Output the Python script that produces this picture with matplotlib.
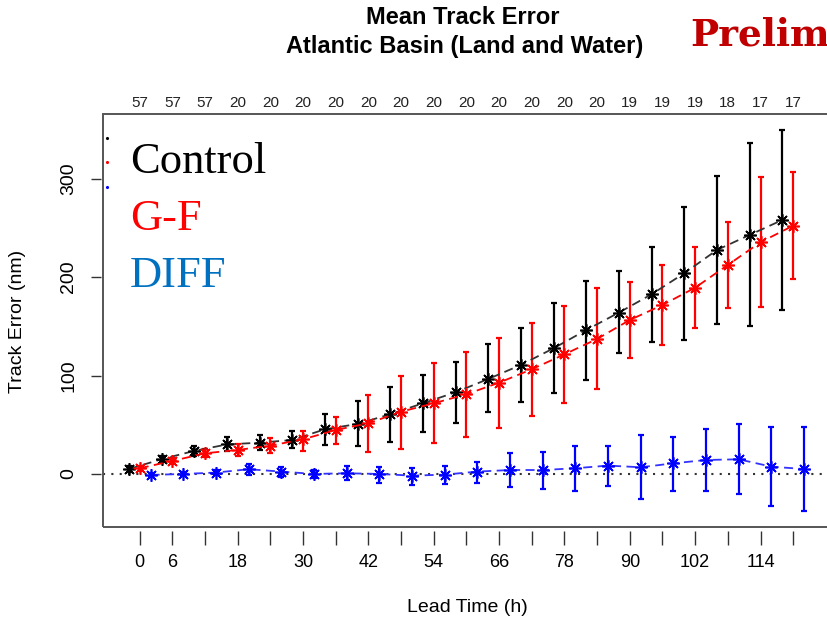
import matplotlib
matplotlib.use('Agg')
import matplotlib.pyplot as plt

# lead times (h) and sample size per lead time
lead = [0, 6, 12, 18, 24, 30, 36, 42, 48, 54, 60, 66, 72, 78, 84, 90, 96, 102, 108, 114, 120]
counts = [57, 57, 57, 20, 20, 20, 20, 20, 20, 20, 20, 20, 20, 20, 20, 19, 19, 19, 18, 17, 17]
xlabels_shown = [0, 6, 18, 30, 42, 54, 66, 78, 90, 102, 114]

# Control
ctrl_mean = [5, 15, 23.4, 30, 31.8, 34.5, 45.4, 50.8, 60.7, 71.8, 83, 96.5, 110.8, 127.7, 146.3, 164, 182.6, 204, 227.6, 242.9, 258.1]
ctrl_hi = [8, 18, 28, 37.3, 39.6, 44, 61, 73.9, 88.7, 100.3, 113.8, 131.8, 148, 173.5, 196, 206.3, 230.4, 271.6, 303, 336, 349.6]
ctrl_lo = [2, 12, 18.3, 23.7, 24.4, 26, 29.5, 28.8, 32.8, 43, 52.1, 62.7, 73.2, 82.6, 95.5, 122.7, 134, 136, 152, 150.4, 166.7]

# G-F
gf_mean = [5.8, 13.2, 21, 24.4, 28.8, 35.2, 44.7, 51.5, 63.3, 71.8, 81, 92.8, 106.4, 121.6, 137.2, 156.5, 171.7, 189.3, 212.4, 235.5, 252.3]
gf_hi = [8, 16, 25, 30.5, 36.9, 43.7, 57.6, 80.3, 99.3, 113, 123.7, 138.5, 153.8, 170.7, 188.7, 194.8, 212.4, 231, 255.8, 302, 307.3]
gf_lo = [3.5, 10.5, 17, 18.3, 21, 23.7, 30.2, 22, 25.4, 31, 38, 46.4, 59, 72.5, 86, 117.5, 131, 148, 168.4, 169.4, 198.2]

# DIFF
diff_mean = [-1, 0, 1.4, 4.8, 2.4, 0, 0.7, 0, -1.7, -0.7, 2.4, 4, 4, 5.8, 8.5, 6.8, 10.8, 14.2, 14.9, 7.4, 5]
diff_hi = [1, 2, 4, 10, 7.5, 4, 8, 7.5, 6.4, 8, 12.5, 21, 22.7, 28.5, 28.5, 39.6, 37.9, 45.7, 50.8, 47.4, 48]
diff_lo = [-3, -2, -1, -1, -2.7, -4.4, -6, -9.5, -11.2, -10.5, -8.8, -13.5, -15.5, -17, -11.8, -25, -17.3, -17.3, -20.6, -32.5, -37.6]

plt.rcParams['font.family'] = ['Liberation Sans', 'DejaVu Sans']

W, H = 827, 621


def series(ax, shift, mean, lo, hi, color, lcolor):
    x = [t + shift for t in lead]
    err = [[m - l for m, l in zip(mean, lo)], [h - m for m, h in zip(mean, hi)]]
    ax.errorbar(x, mean, yerr=err, fmt='none', ecolor=color, elinewidth=1.6,
                capsize=2.2, capthick=1.6, zorder=3)
    ax.plot(x, mean, color=lcolor, lw=1.3, dashes=(5, 3), marker=(8, 2, 0),
            ms=9, mew=1.2, mec=color, zorder=4)


def draw():
    fig = plt.figure(figsize=(W / 100, H / 100), dpi=100)
    left, right, top, bottom = 102.7, 831.3, 114.3, 526.7
    ax = fig.add_axes([left / W, 1 - bottom / H, (right - left) / W, (bottom - top) / H])
    ax.set_xlim(-6.8, 127)
    ax.set_ylim(-53.6, 365.5)

    ax.axhline(0, color='#333333', lw=1.5, ls=(0, (1, 3)), zorder=1)
    series(ax, -2, ctrl_mean, ctrl_lo, ctrl_hi, 'black', '#333333')
    series(ax, 0, gf_mean, gf_lo, gf_hi, '#ff0000', '#ff0000')
    series(ax, 2, diff_mean, diff_lo, diff_hi, '#0000ff', '#3333ff')

    # box like R's bty='o', ticks sit a little below it
    for s in ax.spines.values():
        s.set_visible(False)
    ax.spines['bottom'].set_position(('outward', 3))
    ax.spines['left'].set_position(('outward', 1))
    box = plt.Rectangle((0, 0), 1, 1, transform=ax.transAxes, fill=False,
                        ec='#555555', lw=1.4, clip_on=False, zorder=5)
    ax.add_patch(box)

    ax.set_xticks(lead)
    ax.set_xticklabels([str(t) if t in xlabels_shown else '' for t in lead])
    ax.tick_params(axis='x', length=10, width=1, color='#333333', pad=7, labelsize=13)
    ax.set_yticks([0, 100, 200, 300])
    ax.set_yticklabels(['0', '100', '200', '300'], rotation=90, va='center')
    ax.tick_params(axis='y', length=7.5, width=1, color='#333333', pad=10, labelsize=14)

    # sample sizes along the top
    for t, n in zip(lead, counts):
        ax.text(t, 1 + 11 / 412.4, str(n), transform=ax.get_xaxis_transform(),
                ha='center', va='center', fontsize=11, color='#222222')

    fig.text(18 / W, 1 - 321 / H, 'Track Error (nm)', rotation=90, ha='center', va='center', fontsize=14)
    fig.text(467 / W, 1 - 607 / H, 'Lead Time (h)', ha='center', va='center', fontsize=14)
    fig.text(463 / W, 1 - 18 / H, 'Mean Track Error', ha='center', va='center', fontsize=17, fontweight='bold')
    fig.text(465 / W, 1 - 46 / H, 'Atlantic Basin (Land and Water)', ha='center', va='center',
             fontsize=17, fontweight='bold')
    fig.text(690 / W, 1 - 46 / H, 'Preliminary', ha='left', va='baseline', fontsize=27,
             fontweight='bold', color='#c00000', family='DejaVu Serif')

    # legend overlay
    fig.text(130 / W, 1 - 173 / H, 'Control', fontsize=32, color='black', family='Liberation Serif', va='baseline')
    fig.text(130 / W, 1 - 230 / H, 'G-F', fontsize=32, color='#ff0000', family='Liberation Serif', va='baseline')
    fig.text(130 / W, 1 - 287 / H, 'DIFF', fontsize=32, color='#0070c0', family='Liberation Serif', va='baseline')
    for yy, c in zip([138, 162, 187], ['black', 'red', 'blue']):
        fig.lines.append(plt.Line2D([107 / W], [1 - yy / H], marker='.', ms=2.5, color=c,
                                    transform=fig.transFigure))

    fig.savefig('out.png', dpi=100)


if __name__ == '__main__':
    draw()
